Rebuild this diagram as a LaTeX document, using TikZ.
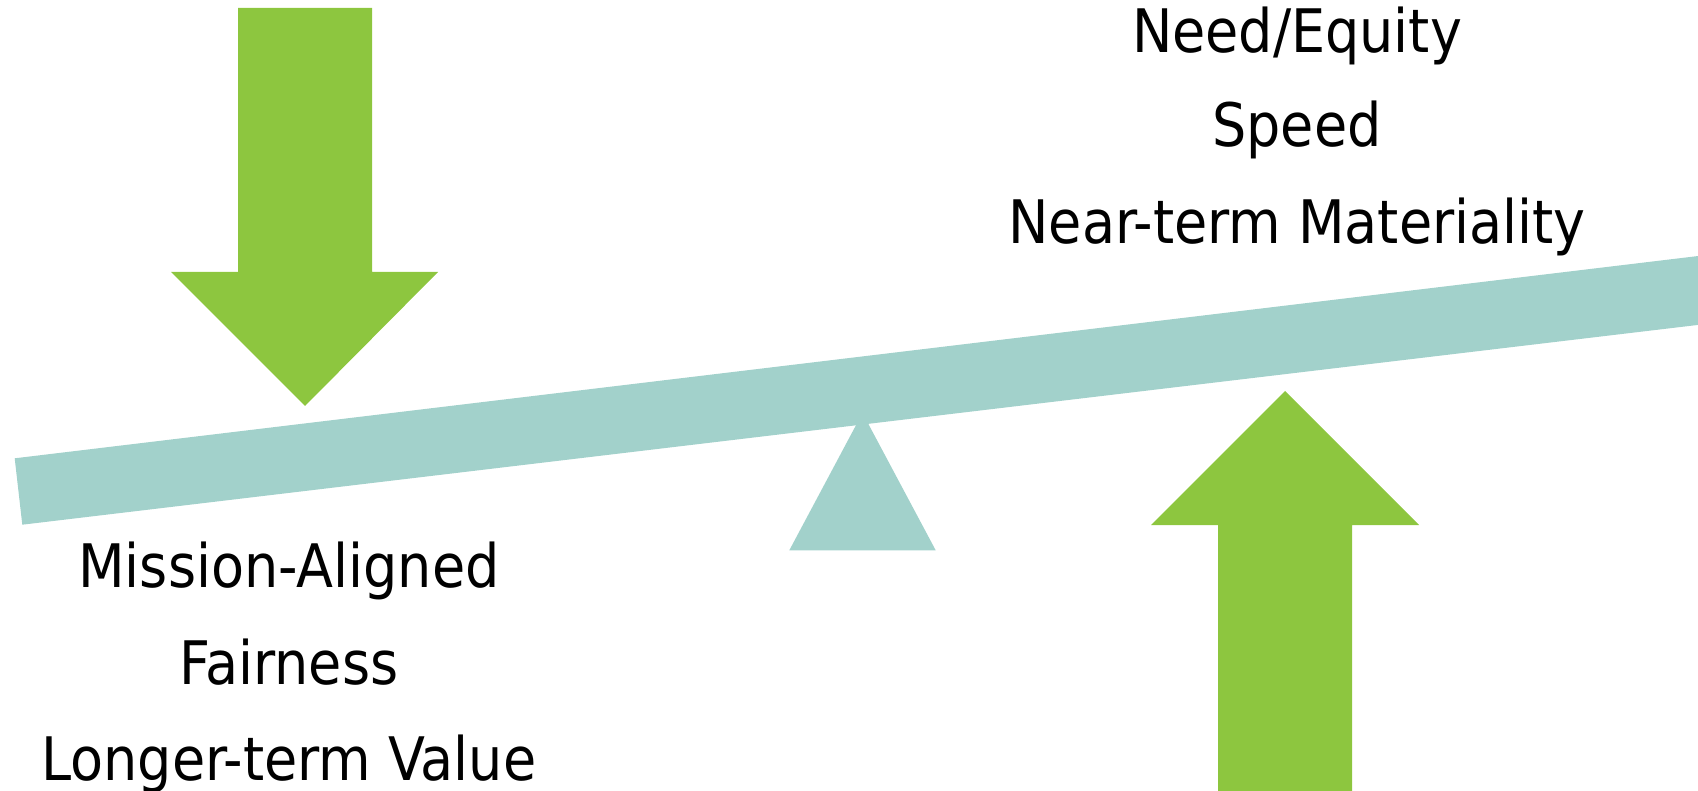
\documentclass[tikz,border=0pt]{standalone}
\usepackage{fontspec}
\newfontfamily\labfont{DejaVu Sans Condensed}
\definecolor{arrowgreen}{HTML}{8DC63F}
\definecolor{beamteal}{HTML}{A2D1CB}
\tikzset{
  greenarrow/.style={fill=arrowgreen, draw=none},
  beamshape/.style={fill=beamteal, draw=none},
  lab/.style={anchor=base, inner sep=0pt, font=\labfont\fontsize{60}{70}\selectfont, text=black}
}
\begin{document}
\begin{tikzpicture}[x=1pt, y=-1pt]
\useasboundingbox (0,0) rectangle (1698,791);
\clip (0,0) rectangle (1698,791);
% beam
\fill[beamshape] (14.7,458.3) -- (22.3,524.7) -- (1720,322.3) -- (1712.4,254.3) -- cycle;
% fulcrum
\fill[beamshape] (789.3,550.3) -- (935.7,550.3) -- (862.5,413) -- cycle;
% left (down) arrow
\fill[greenarrow] (238,8) -- (372,8) -- (372,272) -- (438,272) -- (305,406) -- (171,272) -- (238,272) -- cycle;
% right (up) arrow
\fill[greenarrow] (1218,791) -- (1218,525) -- (1151,525) -- (1285,391) -- (1419,525) -- (1352,525) -- (1352,791) -- cycle;
% labels right
\node[lab] (need) at (1297,53) {Need/Equity};
\node[lab] (speed) at (1297,147) {Speed};
\node[lab] (near) at (1297,244) {Near-term Materiality};
% labels left
\node[lab] (mission) at (289,587) {Mission-Aligned};
\node[lab] (fair) at (289,684) {Fairness};
\node[lab] (longer) at (289,780) {Longer-term Value};
\end{tikzpicture}
\end{document}
